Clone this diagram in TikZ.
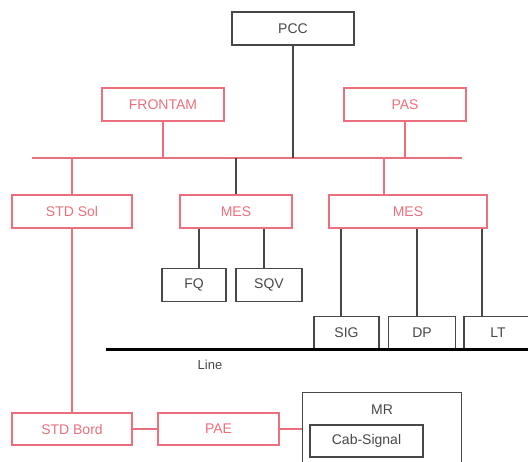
\documentclass[tikz,border=0pt]{standalone}
\usepackage{fontspec}
\setmainfont{Liberation Sans}
\usetikzlibrary{positioning}
\definecolor{netred}{HTML}{EC6F7D}
\definecolor{netgrey}{HTML}{474747}
\tikzset{
  bx/.style={minimum height=33pt, inner sep=1pt, font=\fontsize{14}{16}\selectfont, line width=1.3pt},
  rbox/.style={bx, draw=netred, text=netred},
  gbox/.style={bx, draw=netgrey, text=netgrey},
  rl/.style={draw=netred, line width=1.3pt},
  gl/.style={draw=netgrey, line width=1.2pt},
}
\begin{document}
\begin{tikzpicture}[x=1pt, y=-1pt]
    \useasboundingbox (0,0) rectangle (528,461);
    \clip (0,0) rectangle (528,461);
    % top level
    \node[gbox, minimum width=122pt] (pcc) at (293,28.5) {PCC};
    \node[rbox, minimum width=122pt] (frontam) at (163,104.5) {FRONTAM};
    \node[rbox, minimum width=122pt] (pas) at (405,104.5) {PAS};
    \coordinate (busL) at (32,158);
    \coordinate (busR) at (462,158);
    \draw[rl] (busL) -- (busR);
    \draw[gl] (pcc) -- (pcc |- busL);
    \foreach \n in {frontam,pas} \draw[rl] (\n) -- (\n |- busL);
    % second level
    \node[rbox, minimum width=120pt] (stdsol) at (72,211.5) {STD Sol};
    \node[rbox, minimum width=112pt] (mesa) at (236,211.5) {MES};
    \node[rbox, minimum width=158pt] (mesb) at (408,211.5) {MES};
    \draw[rl] (stdsol) -- (stdsol |- busL);
    \draw[gl] (mesa) -- (mesa |- busL);
    \draw[rl] ([xshift=-24pt]mesb.north) -- ([xshift=-24pt]mesb.north |- busL);
    % measurement points
    \node[gbox, minimum width=64pt] (fq) at (194,285) {FQ};
    \node[gbox, minimum width=66pt] (sqv) at (269,285) {SQV};
    \draw[gl] ([xshift=5pt]fq.north) -- ([xshift=5pt]fq.north |- mesa.south);
    \draw[gl] ([xshift=-5pt]sqv.north) -- ([xshift=-5pt]sqv.north |- mesa.south);
    \node[gbox, minimum width=65pt] (sig) at (346.5,333) {SIG};
    \node[gbox, minimum width=67pt] (dp) at (422,333) {DP};
    \node[gbox, minimum width=68pt] (lt) at (498,333) {LT};
    \foreach \n/\d in {sig/-5.5,dp/-5,lt/-16}
      \draw[gl] ([xshift=\d pt]\n.north) -- ([xshift=\d pt]\n.north |- mesb.south);
    % track
    \coordinate (lineL) at (106,349);
    \coordinate (lineR) at (528,349);
    \draw[line width=3pt, black] (lineL) -- (lineR);
    \node[text=netgrey, font=\fontsize{13}{15}\selectfont] (linelbl) at (210,365) {Line};
    % on board
    \node[rbox, minimum width=120pt, minimum height=32pt] (stdbord) at (72,429) {STD Bord};
    \node[rbox, minimum width=121pt, minimum height=32pt] (pae) at (218.5,429) {PAE};
    \node[gbox, minimum width=159pt, minimum height=90pt, anchor=north west] (mr) at (302,392) {};
    \node[text=netgrey, font=\fontsize{14}{16}\selectfont] (mrlbl) at (382,410) {MR};
    \node[gbox, minimum width=113pt, minimum height=32pt] (cab) at (366.5,441) {Cab-Signal};
    \draw[rl] (stdsol) -- (stdbord);
    \draw[rl] (stdbord) -- (pae);
    \draw[rl] (pae.east) -- (pae.east -| mr.west);
\end{tikzpicture}
\end{document}
